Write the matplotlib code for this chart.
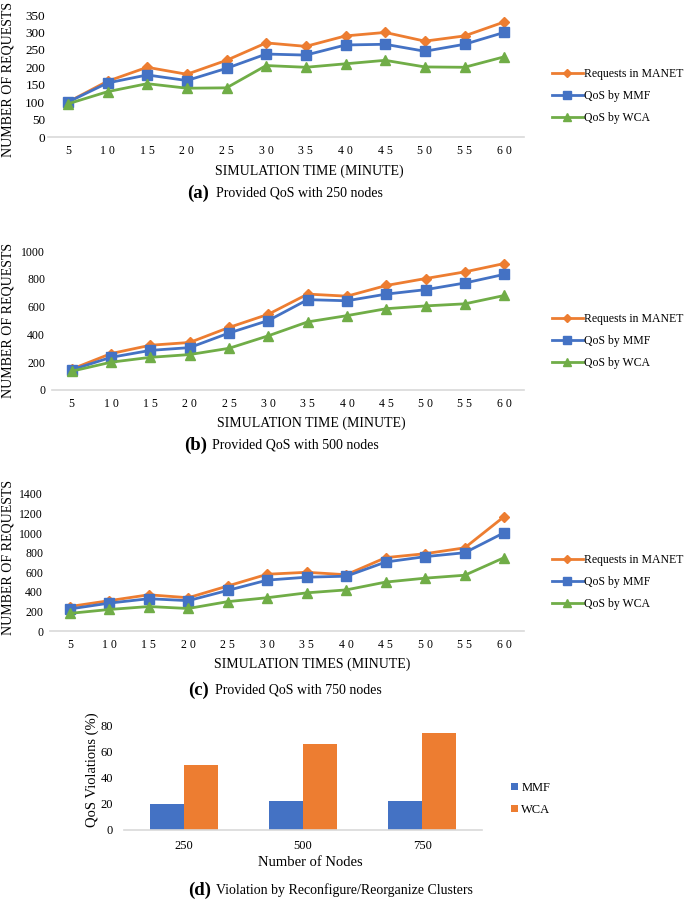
import numpy as np
import matplotlib
matplotlib.use('Agg')
import matplotlib.pyplot as plt
from matplotlib import rcParams

rcParams['font.family'] = ['Liberation Serif', 'DejaVu Serif']

# ===== data =====
times = [5, 10, 15, 20, 25, 30, 35, 40, 45, 50, 55, 60]

req_250 = [100, 160, 200, 180, 220, 270, 260, 290, 300, 275, 290, 330]
mmf_250 = [100, 155, 178, 162, 197, 238, 235, 264, 266, 246, 266, 300]
wca_250 = [95, 130, 153, 140, 141, 205, 200, 210, 220, 201, 200, 230]

req_500 = [150, 262, 322, 342, 450, 545, 690, 675, 752, 802, 850, 910]
mmf_500 = [145, 235, 285, 305, 410, 500, 650, 642, 690, 722, 770, 832]
wca_500 = [135, 200, 235, 255, 300, 390, 490, 535, 585, 605, 620, 680]

req_750 = [250, 310, 370, 340, 460, 580, 600, 575, 750, 790, 850, 1170]
mmf_750 = [225, 285, 330, 310, 415, 520, 550, 560, 705, 760, 800, 1005]
wca_750 = [180, 220, 250, 230, 300, 340, 390, 420, 500, 540, 570, 750]

nodes = ['250', '500', '750']
viol_mmf = [20, 22, 22]
viol_wca = [50, 66, 75]

series_names = ['Requests in MANET', 'QoS by MMF', 'QoS by WCA']
ORANGE, BLUE, GREEN = '#ED7D31', '#4472C4', '#70AD47'

W, H = 685, 900
fig = plt.figure(figsize=(W / 100, H / 100), dpi=100)


def px(x0, y0, x1, y1):
    """pixel box -> figure fraction rect"""
    return [x0 / W, 1 - y1 / H, (x1 - x0) / W, (y1 - y0) / H]


def fx(x):
    return x / W


def fy(y):
    return 1 - y / H


def style_ax(ax, tick_size, ypad):
    for s in ['top', 'right', 'left']:
        ax.spines[s].set_visible(False)
    ax.spines['bottom'].set_color('#d9d9d9')
    ax.spines['bottom'].set_linewidth(1.2)
    ax.tick_params(length=0, labelsize=tick_size, colors='black')
    ax.tick_params(axis='x', pad=6)
    ax.tick_params(axis='y', pad=ypad)


def caption(letter, text, x_letter, x_text, y):
    fig.text(fx(x_letter), fy(y), '(' + letter + ')', fontsize=13.5,
             fontweight='bold', ha='left', va='center')
    fig.text(fx(x_text), fy(y), text, fontsize=10, ha='left', va='center')


def line_panel(box, req, mmf, wca, ymax, ystep, ytick_size, ypad,
               xlabel, xlabel_xy, ylabel_y, legend_y, cap):
    ax = fig.add_axes(px(*box))
    ax.plot(times, req, color=ORANGE, lw=2, marker='D', ms=5, label=series_names[0])
    ax.plot(times, mmf, color=BLUE, lw=2, marker='s', ms=7, label=series_names[1])
    ax.plot(times, wca, color=GREEN, lw=2, marker='^', ms=7, label=series_names[2])
    ax.set_xlim(2.5, 62.5)
    ax.set_ylim(0, ymax)
    ax.set_xticks(times)
    ax.set_xticklabels([' '.join(str(t)) for t in times])
    ax.set_yticks(np.arange(0, ymax + 1, ystep))
    style_ax(ax, 8.5, ypad)
    ax.tick_params(axis='y', labelsize=ytick_size)
    fig.text(fx(xlabel_xy[0]), fy(xlabel_xy[1]), xlabel, fontsize=10,
             ha='center', va='center')
    fig.text(fx(8), fy(ylabel_y), 'NUMBER OF REQUESTS', fontsize=10,
             rotation=90, ha='center', va='center')
    ax.legend(loc='center left', bbox_to_anchor=(fx(546), fy(legend_y)),
              bbox_transform=fig.transFigure, frameon=False, fontsize=8.5,
              handlelength=2.6, handletextpad=0.15, labelspacing=0.85,
              borderpad=0, markerscale=0.75)
    caption(*cap)
    return ax


line_panel((48, 15, 524, 137), req_250, mmf_250, wca_250, 350, 50, 9.5, 2,
           'SIMULATION TIME (MINUTE)', (309, 171), 79, 96,
           ('a', 'Provided QoS with 250 nodes', 187, 216, 193))

line_panel((52, 251, 524, 390), req_500, mmf_500, wca_500, 1000, 200, 8.5, 5,
           'SIMULATION TIME (MINUTE)', (311, 423), 320, 341,
           ('b', 'Provided QoS with 500 nodes', 184, 212, 445))

line_panel((50, 494, 524, 631), req_750, mmf_750, wca_750, 1400, 200, 8.5, 5,
           'SIMULATION TIMES (MINUTE)', (312, 664), 557, 582,
           ('c', 'Provided QoS with 750 nodes', 188, 215, 690))

# ===== (d) bar chart =====
axd = fig.add_axes(px(124, 726, 482, 830))
x = np.arange(len(nodes))
bw = 0.285
axd.bar(x - bw / 2, viol_mmf, bw, color=BLUE, label='MMF')
axd.bar(x + bw / 2, viol_wca, bw, color=ORANGE, label='WCA')
axd.set_xlim(-0.5, len(nodes) - 0.5)
axd.set_ylim(0, 80)
axd.set_yticks(np.arange(0, 81, 20))
axd.set_xticks(x)
axd.set_xticklabels(nodes)
style_ax(axd, 9, 8)
axd.tick_params(axis='x', pad=7)
fig.text(fx(310), fy(863), 'Number of Nodes', fontsize=10.5, ha='center', va='center')
fig.text(fx(92), fy(770), 'QoS Violations (%)', fontsize=10.5, rotation=90,
         ha='center', va='center')
axd.legend(loc='center left', bbox_to_anchor=(fx(505), fy(799)),
           bbox_transform=fig.transFigure, frameon=False, fontsize=9,
           handlelength=0.55, handleheight=0.55, handletextpad=0.25,
           labelspacing=0.8, borderpad=0)
caption('d', 'Violation by Reconfigure/Reorganize Clusters', 188, 216, 890)

fig.savefig('out.png', dpi=100)
